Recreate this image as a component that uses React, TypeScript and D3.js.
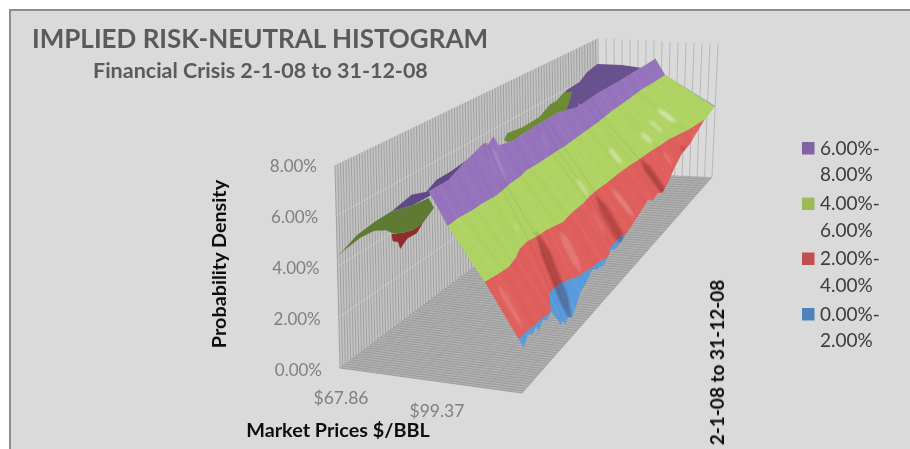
import * as d3 from "d3";

// Values. Days are trading days from 2-1-08 (0) to 31-12-08 (252).
const densityTicks = [0, 2, 4, 6, 8];
const priceTicks = [67.86, 99.37];
const legendLabels = [
  ["6.00%-", "8.00%"],
  ["4.00%-", "6.00%"],
  ["2.00%-", "4.00%"],
  ["0.00%-", "2.00%"],
];
const legendColors = ["#8064a2", "#9bbb59", "#c0504d", "#4f81bd"];

const ridgePrice = 96.56;
const ridgeDays = [0, 22, 39, 61, 66, 72, 78, 86, 95, 99, 111, 113, 116, 139, 144, 166, 167, 169, 188, 213, 250, 252];
const ridgeDensity = [7.27, 7.23, 7.55, 7.88, 7.7, 7.94, 7.42, 7.32, 7.24, 7.26, 7.29, 7.22, 7.3, 7.27, 7.27, 6.94, 7.1, 6.95, 7.02, 6.95, 6.93, 6.96];

const sixDays = [0, 14, 25, 38, 52, 62, 70, 82, 93, 104, 115, 125, 135, 150, 163, 172, 182, 192, 202, 215, 227, 240, 252];
const sixPrices = [102.54, 102.3, 103.1, 103.2, 104.03, 103.4, 102.9, 102.9, 101.94, 102.5, 102.6, 102.7, 103.14, 102.7, 102.54, 102.5, 102, 101.4, 101.34, 101.2, 100.74, 101.4, 101.64];

const fourDays = [0, 12, 23, 36, 48, 59, 67, 76, 88, 102, 116, 126, 135, 146, 158, 171, 180, 188, 200, 210, 224, 241, 252];
const fourPrices = [114.5, 115.6, 116.29, 115.2, 113.2, 112.7, 114.1, 114.5, 116.89, 116.2, 116.29, 115.6, 115.69, 116.29, 116.5, 117.19, 118.2, 118.68, 120.1, 121.07, 124.96, 127.65, 130.64];

const twoDays = [0, 25, 36, 50, 59, 71, 80, 93, 101, 108, 116, 126, 134, 141, 252];
const twoPrices = [125.86, 126.75, 127.65, 123.5, 121.07, 121.67, 124.96, 127.05, 127.65, 129.44, 126.75, 126.45, 126.45, 130.64, 133.63];

const edgeDays = [0, 5, 12, 16, 20, 25, 31, 36, 42, 47, 50, 53, 56, 60, 65, 69, 76, 84, 91, 98, 107, 116, 123, 131, 144, 151, 158, 164, 171, 177, 184, 191, 199, 209, 219, 237, 252];
const edgeDensity = [1.68, 2.03, 1.85, 2.02, 1.7, 2.0, 1.8, 1.98, 1.6, 1.26, 1.0, 1.1, 0.82, 1.0, 0.8, 0.99, 1.5, 1.7, 1.96, 1.75, 1.63, 1.98, 1.8, 1.9, 2.15, 2.3, 2.45, 2.62, 2.3, 2.45, 2.22, 2.44, 2.9, 3.31, 3.4, 4.0, 4.27];

// Underside of the left slope, as it shows against the left wall
const olive1Days = [0, 19, 36, 53, 72, 88, 93, 82, 72, 63, 53, 47, 36, 23, 7];
const olive1Density = [4.37, 4.77, 4.89, 4.91, 4.64, 4.54, 3.96, 3.59, 3.57, 3.71, 3.97, 4.26, 4.52, 4.59, 4.48];
const maroonDays = [52, 63, 72, 82, 76, 67, 60, 58, 53];
const maroonDensity = [3.96, 3.71, 3.57, 3.59, 3.32, 3.35, 3.1, 3.46, 3.63];
const darkPurple1Days = [53, 72, 86, 96, 110, 127, 139, 144, 147, 127, 108, 91, 72];
const darkPurple1Density = [4.91, 5.12, 4.87, 5.14, 5.15, 5.27, 5.52, 5.53, 5.11, 4.7, 4.24, 4.6, 4.64];
const olive2Days = [161, 164, 179, 195, 205, 212, 219, 227, 221, 188, 169];
const olive2Density = [5.17, 5.43, 5.29, 5.31, 5.65, 5.68, 5.9, 5.66, 4.83, 4.57, 4.62];
const darkPurple2Days = [208, 221, 234, 241, 251, 252, 252, 251, 224, 200];
const darkPurple2Prices = [67.86, 67.86, 67.86, 67.86, 67.86, 79.82, 89.98, 67.86, 67.86, 67.86];
const darkPurple2Density = [5.17, 5.95, 6.0, 6.32, 6.48, 6.46, 6.33, 4.04, 4.73, 4.52];

// Lighter and darker streaks running down the slope
const streakDays = [68, 131, 181, 215, 8, 84, 146, 120, 200, 226, 125, 166, 197, 222, 210, 55, 68, 60, 120];
const streakWidths = [4, 4, 3, 2, 2, 2.5, 2, 1.5, 1.5, 1.5, 1.5, 2, 2, 2, 1.5, 1, 1.5, 1, 1];
const streakTop = [4.2, 3.9, 4, 3.5, 3.8, 3.8, 3.8, 3.6, 3.7, 3.7, 4.8, 5, 4.8, 5.2, 5, 4.8, 7.6, 7.4, 7];
const streakBottom = [0.5, 1.5, 2, 3, 2.1, 2, 2.4, 2.4, 3, 3.4, 4, 4.2, 4.2, 4.4, 4.3, 4.5, 6.2, 6.4, 6.2];
const streakTone = [-0.26, -0.24, -0.26, -0.16, 0.14, 0.16, 0.2, 0.12, 0.14, 0.14, 0.4, 0.36, 0.36, 0.42, 0.32, 0.3, 0.14, 0.1, 0.12];

// Fine slice-to-slice grain over the whole surface, every 6 days
const grainTone = [0.04, -0.02, 0.05, -0.03, 0.02, -0.03, 0.04, -0.02, -0.03, 0.03, -0.05, -0.06, 0.04, 0.05, -0.03, 0.02, -0.03, 0.05, -0.02, 0.03, -0.04, -0.05, -0.05, 0.04, 0.05, -0.02, 0.03, -0.03, 0.04, -0.03, -0.05, 0.03, 0.04, -0.03, 0.04, -0.02, 0.05, -0.03, 0.04, -0.02, 0.03, -0.02, 0.02];

const gridDays = d3.range(0, 252.1, 2.6);
const gridPrices = d3.range(0, 16).map((i) => 67.86 + (i * (127.65 - 67.86)) / 15);

// Box corners on screen
const box = {
  a: [340, 368], b: [522, 393], c: [712, 177], d: [600, 172],
  at: [335, 165], bt: [530, 180], ct: [718, 44], dt: [598, 38],
};

const uScale = d3.scaleLinear().domain([67.86, 127.65]).range([0, 1]);
const tScale = d3.scaleLinear().domain([0, 252]).range([0, 1]);
const hScale = d3.scaleLinear().domain([0, 8]).range([0, 1]);
const mix = (p: number, q: number, k: number) => p + (q - p) * k;

function project(day: number, price: number, density: number): [number, number] {
  const u = uScale(price);
  const t = tScale(day);
  const h = hScale(density);
  const axis = (i: number) => {
    const low = mix(mix(box.a[i], box.b[i], u), mix(box.d[i], box.c[i], u), t);
    const high = mix(mix(box.at[i], box.bt[i], u), mix(box.dt[i], box.ct[i], u), t);
    return mix(low, high, h);
  };
  return [axis(0), axis(1)];
}

const polyline = d3.line();
const closed = (pts: [number, number][]) => polyline(pts) + "Z";

const ridgeAt = d3.scaleLinear().domain(ridgeDays).range(ridgeDensity);
const contours = [
  { level: 6, days: sixDays, prices: sixPrices, at: d3.scaleLinear().domain(sixDays).range(sixPrices), color: "#9673bd" },
  { level: 4, days: fourDays, prices: fourPrices, at: d3.scaleLinear().domain(fourDays).range(fourPrices), color: "#afd364" },
  { level: 2, days: twoDays, prices: twoPrices, at: d3.scaleLinear().domain(twoDays).range(twoPrices), color: "#df5f5c" },
];

const ridgePts = ridgeDays.map((d, i) => project(d, ridgePrice, ridgeDensity[i]));
const edgePts = edgeDays.map((d, i) => project(d, 127.65, edgeDensity[i]));
const backEnd = (c: (typeof contours)[number]) => project(252, c.at(252), c.level);
const frontEnd = (c: (typeof contours)[number]) => project(0, c.at(0), c.level);

const surfaceOutline: [number, number][] = [
  ...ridgePts,
  backEnd(contours[0]),
  ...[...edgePts].reverse(),
  ...[...contours].reverse().map(frontEnd),
];

function bandPoints(i: number): [number, number][] {
  const c = contours[i];
  const line = c.days.map((d, k) => project(d, c.prices[k], c.level));
  return [
    ...ridgePts,
    ...contours.slice(0, i).map(backEnd),
    ...line.reverse(),
    ...contours.slice(0, i).reverse().map(frontEnd),
  ];
}

function slicePrice(day: number, density: number) {
  const two = contours[2].at(day);
  const four = contours[1].at(day);
  return d3
    .scaleLinear()
    .domain([ridgeAt(day), 6, 4, 2, 0])
    .range([ridgePrice, contours[0].at(day), four, two, two + (two - four)])(density);
}

function streakPath(i: number) {
  const day = streakDays[i];
  const w = streakWidths[i];
  const top = streakTop[i];
  const bottom = streakBottom[i];
  const at = (d: number, k: number) => {
    const density = mix(top, bottom, k);
    return project(d, slicePrice(d, density), density);
  };
  return closed([at(day, 0), at(day + w, 0.25), at(day + w, 0.75), at(day, 1), at(day - w, 0.75), at(day - w, 0.25)]);
}

function grainPath(day: number) {
  const levels = [ridgeAt(day), 6, 4, 2, 0.5];
  return polyline(levels.map((v) => project(day, slicePrice(day, v), v)));
}

const wallPath = (days: number[], densities: number[], prices?: number[]) =>
  closed(days.map((d, i) => project(d, prices ? prices[i] : 67.86, densities[i])));

const seg = (p: [number, number], q: [number, number]) => `M${p[0]},${p[1]}L${q[0]},${q[1]}`;

const axisFont = "Lato, 'Open Sans', sans-serif";
const yLabel = d3.scaleLinear().domain([0, 8]).range([370, 166]);
const yLabelRight = d3.scaleLinear().domain([0, 8]).range([322, 317]);

export default function App() {
  return (
    <svg width={910} height={449} style={{ position: "fixed", left: 0, top: 0, display: "block" }} fontFamily={axisFont}>
      <defs>
        <clipPath id="surface">
          <path d={closed(surfaceOutline)} />
        </clipPath>
        <filter id="soft" x="-5%" y="-5%" width="110%" height="110%">
          <feGaussianBlur stdDeviation="0.6" />
        </filter>
        <filter id="softer" x="-50%" y="-50%" width="200%" height="200%">
          <feGaussianBlur stdDeviation="1" />
        </filter>
        <filter id="textSoft" x="-5%" y="-5%" width="110%" height="110%">
          <feGaussianBlur stdDeviation="0.4" />
        </filter>
      </defs>

      <rect x={0} y={0} width={910} height={449} fill="#ffffff" />
      <rect x={10} y={10} width={902} height={441} fill="#dadada" stroke="#8c8c8c" strokeWidth={2} />

      {/* Walls and floor */}
      <g filter="url(#soft)" fill="none">
        <path d={closed([box.a, box.d, box.dt, box.at] as [number, number][])} fill="#c4c4c4" />
        <path d={closed([box.a, box.b, box.c, box.d] as [number, number][])} fill="#b2b2b2" />
        {gridDays.map((d) => (
          <path key={d} d={seg(project(d, 67.86, 0), project(d, 67.86, 8))} stroke="#a0a0a0" strokeWidth={1} />
        ))}
        {gridPrices.map((p) => (
          <path key={p} d={seg(project(252, p, 0), project(252, p, 8))} stroke="#b4b4b4" strokeWidth={0.9} />
        ))}
        {densityTicks.slice(1).map((v) => (
          <path key={v} d={seg(project(0, 67.86, v), project(252, 67.86, v))} stroke="#e2e2e2" strokeWidth={0.7} opacity={0.6} />
        ))}
        {gridDays.map((d) => (
          <path key={d} d={seg(project(d, 67.86, 0), project(d, 127.65, 0))} stroke="#999999" strokeWidth={0.9} />
        ))}
        {gridPrices.map((p) => (
          <path key={p} d={seg(project(0, p, 0), project(252, p, 0))} stroke="#a0a0a0" strokeWidth={0.9} />
        ))}
      </g>

      {/* Underside */}
      <g filter="url(#soft)">
        <path d={wallPath(darkPurple2Days, darkPurple2Density, darkPurple2Prices)} fill="#67518f" />
        <path d={wallPath(darkPurple1Days, darkPurple1Density)} fill="#5f4a88" />
        <path d={wallPath(maroonDays, maroonDensity)} fill="#8e2f2d" />
        <path d={wallPath(olive1Days, olive1Density)} fill="#5f7a32" />
        <path d={wallPath(olive2Days, olive2Density)} fill="#6d8a35" />
      </g>

      {/* Surface bands, lowest first, clipped to the outline */}
      <g clipPath="url(#surface)">
        <g filter="url(#soft)">
          <path d={closed(surfaceOutline)} fill="#5a9bdd" />
          {[2, 1, 0].map((i) => (
            <path key={i} d={closed(bandPoints(i))} fill={contours[i].color} />
          ))}
        </g>
        <g filter="url(#soft)" fill="none">
          {grainTone.map((tone, i) => (
            <path key={i} d={grainPath(i * 6)} stroke={tone < 0 ? "#2a0a0a" : "#ffffff"} strokeWidth={1.4} opacity={Math.abs(tone)} />
          ))}
        </g>
        <g filter="url(#softer)">
          {streakDays.map((d, i) => (
            <path key={i} d={streakPath(i)} fill={streakTone[i] < 0 ? "#3a0a0a" : "#ffffff"} opacity={Math.abs(streakTone[i])} />
          ))}
        </g>
      </g>

      {/* Titles and labels */}
      <g filter="url(#textSoft)">
        <text x={32} y={48} fontSize={26} fontWeight={700} fill="#5a5a5a">IMPLIED RISK-NEUTRAL HISTOGRAM</text>
        <text x={93} y={78} fontSize={21.5} fontWeight={700} fill="#5a5a5a">Financial Crisis 2-1-08 to 31-12-08</text>

        {densityTicks.map((v) => (
          <text key={v} x={yLabelRight(v)} y={yLabel(v)} dy="0.35em" textAnchor="end" fontSize={17} fill="#7f7f7f">
            {d3.format(".2f")(v)}%
          </text>
        ))}
        {priceTicks.map((p) => {
          const [x, y] = project(0, p, 0);
          return (
            <text key={p} x={x + 1} y={y + 30} dy="0.35em" textAnchor="middle" fontSize={17.5} fill="#7f7f7f">
              ${p.toFixed(2)}
            </text>
          );
        })}
        <text transform="translate(226,264) rotate(-90)" textAnchor="middle" fontSize={19.8} fontWeight={700} fill="#111">Probability Density</text>
        <text x={338} y={437} textAnchor="middle" fontSize={19.8} fontWeight={700} fill="#111">Market Prices $/BBL</text>
        <text transform="translate(724,362.5) rotate(-90)" textAnchor="middle" fontSize={19} fontWeight={700} fill="#111">2-1-08 to 31-12-08</text>

        {legendLabels.map((lines, i) => {
          const y = [148, 203.5, 258.5, 314][i];
          return (
            <g key={lines[0]}>
              <rect x={802} y={y - 6} width={12.5} height={12.5} fill={legendColors[i]} />
              <text x={820} y={y} dy="0.35em" fontSize={19} fill="#3c3c3c">{lines[0]}</text>
              <text x={820} y={y + 26.5} dy="0.35em" fontSize={19} fill="#3c3c3c">{lines[1]}</text>
            </g>
          );
        })}
      </g>
    </svg>
  );
}
